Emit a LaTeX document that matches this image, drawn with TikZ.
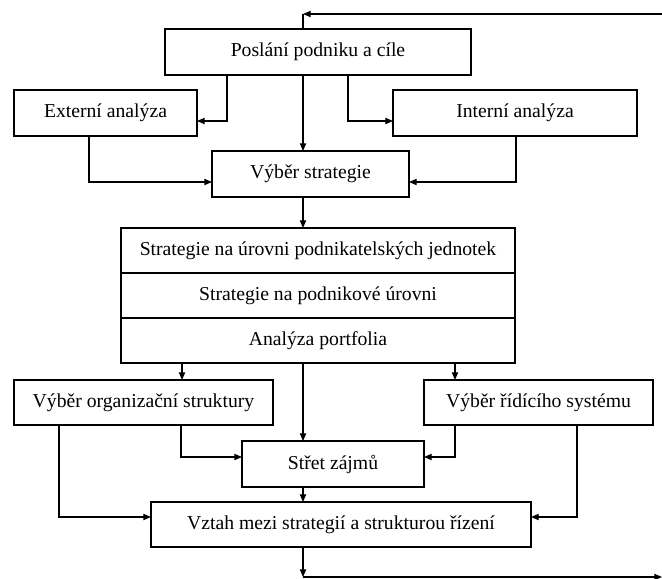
\documentclass[tikz,border=0pt]{standalone}
\usepackage{fontspec}
\setmainfont{Liberation Serif}
\usepackage{tikz}
\usetikzlibrary{arrows.meta,positioning}
\tikzstyle{box}=[draw,line width=0.8,inner sep=0,outer sep=0,font=\fontsize{14}{16}\selectfont]
\tikzstyle{flow}=[->,line width=0.8]
\tikzset{>={Triangle[length=5.5,width=4.5]}}

\begin{document}
\begin{tikzpicture}[x=0.025cm,y=-0.025cm]
  \def\pix{0.025cm} % one pixel of the page
  \def\hb{45*\pix}  % box height
  \useasboundingbox (0,0) rectangle (662,578);
  
  % BOXES
  \node[box,minimum width=306*\pix,minimum height=46*\pix] (poslani) at (318,52)    {Poslání podniku a cíle};
  \node[box,minimum width=183*\pix,minimum height=46*\pix] (externi) at (105.5,113) {Externí analýza};
  \node[box,minimum width=244*\pix,minimum height=46*\pix] (interni) at (515,113)   {Interní analýza};
  \node[box,minimum width=197*\pix,minimum height=46*\pix] (vyber)   at (310.5,174) {Výběr strategie};
  \node[box,minimum width=394*\pix,minimum height=\hb] (sj1) at (318,250.5) {Strategie na úrovni podnikatelských jednotek};
  \node[box,minimum width=394*\pix,minimum height=\hb,below=0pt of sj1] (sj2) {Strategie na podnikové úrovni};
  \node[box,minimum width=394*\pix,minimum height=\hb,below=0pt of sj2] (sj3) {Analýza portfolia};
  \node[box,minimum width=259*\pix,minimum height=\hb] (org)     at (143.5,402.5) {Výběr organizační struktury};
  \node[box,minimum width=229*\pix,minimum height=\hb] (ridici)  at (538.5,402.5) {Výběr řídícího systému};
  \node[box,minimum width=182*\pix,minimum height=46*\pix] (stret) at (333,464)   {Střet zájmů};
  \node[box,minimum width=380*\pix,minimum height=\hb] (vztah)   at (341,524.5)   {Vztah mezi strategií a strukturou řízení};
  
  % LOOP ENDS
  \coordinate (topL) at (303,14);
  \coordinate (topR) at (662,14);
  \coordinate (botL) at (303,577);
  \coordinate (botR) at (662,577);
  
  % ARROWS
  \draw[flow] (topR) -- (topL);
  \draw[line width=0.8] (topL) -- (poslani.north -| topL);
  \draw[flow] (poslani.south -| 227,0) |- (externi.east |- 0,121);
  \draw[flow] (poslani.south -| 348,0) |- (interni.west |- 0,121);
  \draw[flow] (poslani.south -| topL) -- (vyber.north -| topL);
  \draw[flow] (externi.south -| 89,0) |- (vyber.west |- 0,182);
  \draw[flow] (interni.south -| 516,0) |- (vyber.east |- 0,182);
  \draw[flow] (vyber.south -| topL) -- (sj1.north -| topL);
  \draw[flow] (sj3.south -| 182,0) -- (org.north -| 182,0);
  \draw[flow] (sj3.south -| 455,0) -- (ridici.north -| 455,0);
  \draw[flow] (sj3.south -| topL) -- (stret.north -| topL);
  \draw[flow] (org.south -| 181,0) |- (stret.west |- 0,457);
  \draw[flow] (ridici.south -| 455,0) |- (stret.east |- 0,457);
  \draw[flow] (org.south -| 59,0) |- (vztah.west |- 0,517);
  \draw[flow] (ridici.south -| 577,0) |- (vztah.east |- 0,517);
  \draw[flow] (stret.south -| topL) -- (vztah.north -| topL);
  \draw[flow] (vztah.south -| botL) -- (botL);
  \draw[flow] (botL) -- (botR);
  
\end{tikzpicture}
\end{document}
